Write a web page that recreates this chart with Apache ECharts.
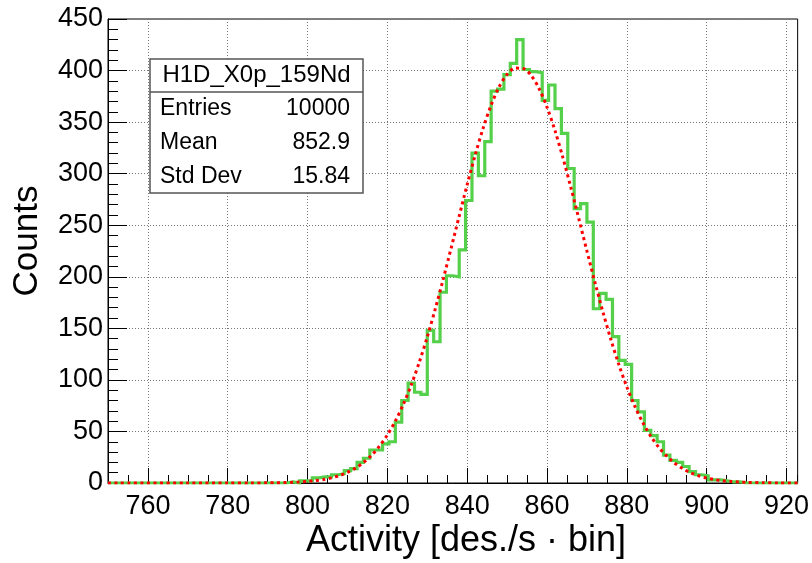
<!DOCTYPE html>
<html>
<head>
<meta charset="utf-8">
<script src="https://cdn.jsdelivr.net/npm/echarts@6/dist/echarts.min.js"></script>
<style>
  html, body { margin: 0; padding: 0; background: #ffffff; }
  #chart { width: 812px; height: 563px; }
</style>
</head>
<body>
<div id="chart"></div>
<script>
// Histogram binning: 108 bins of width 1.6 from 750 to 922.8
const binStart = 750;
const binWidth = 1.6;
const xMax = 922.8;

// Bin contents, bin 0 starts at 750
const counts = [
  0, 0, 0, 0, 0, 0, 0, 0, 0, 0,
  0, 0, 0, 0, 0, 0, 0, 0, 0, 0,
  0, 0, 0, 0, 0, 0, 0, 0, 1, 0,
  2, 2, 5, 6, 6, 8, 9, 12, 14, 20,
  24, 32, 32, 38, 40, 59, 80, 97, 88, 86,
  148, 137, 185, 201, 200, 226, 274, 320, 298, 331,
  380, 382, 396, 407, 430, 401, 399, 398, 371, 386,
  363, 339, 305, 266, 271, 253, 169, 184, 178, 142,
  119, 115, 80, 69, 51, 46, 40, 27, 22, 20,
  16, 11, 8, 7, 3, 3, 2, 1, 1, 0,
  0, 0, 0, 0, 0, 0, 0, 0
];

// Gaussian fit curve, sampled points
const fitX = [750, 770, 780, 786, 790, 792, 794, 796, 798, 800, 802, 804, 806, 808, 810, 812, 814, 816, 818, 820,
  822, 824, 826, 828, 830, 832, 834, 836, 838, 840, 842, 844, 846, 848, 850, 852, 854, 856, 858, 860,
  862, 864, 866, 868, 870, 872, 874, 876, 878, 880, 882, 884, 886, 888, 890, 892, 894, 896, 898, 900,
  902, 904, 906, 908, 910, 914, 918, 922.8];
const fitY = [0, 0, 0, 0.05, 0.15, 0.25, 0.4, 0.64, 1.0, 1.5, 2.3, 3.4, 5.0, 7.2, 10.3, 14.4, 19.8, 26.7, 35.6, 46.6,
  60.1, 76.3, 95.3, 117.2, 141.7, 168.8, 197.8, 228.1, 258.9, 289.3, 318.0, 344.2, 366.5, 384.2, 396.3, 402.4, 402.0, 395.4, 382.6, 364.5,
  341.7, 315.3, 286.2, 255.9, 225.0, 194.8, 166.0, 139.2, 114.8, 93.2, 74.5, 58.6, 45.4, 34.6, 26.0, 19.2, 13.9, 9.9, 7.0, 4.8,
  3.3, 2.2, 1.5, 0.95, 0.6, 0.24, 0.1, 0.05];

// Axis tick labels
const xTickValues = [760, 780, 800, 820, 840, 860, 880, 900, 920];
const yMax = 450;
const yStep = 50;

// Statistics box
const statsTitle = 'H1D_X0p_159Nd';
const statsLabels = ['Entries', 'Mean', 'Std Dev'];
const statsValues = ['10000', '852.9', '15.84'];

const xTitle = 'Activity [des./s \u00b7 bin]';
const yTitle = 'Counts';

const FONT = '"Liberation Sans", Arial, Helvetica, sans-serif';

// Step outline of the histogram, built from the bin contents
const histPoints = [[binStart, 0]];
counts.forEach((c, i) => {
  const x0 = binStart + i * binWidth;
  histPoints.push([x0, c], [x0 + binWidth, c]);
});
histPoints.push([binStart + counts.length * binWidth, 0]);

const fitPoints = fitX.map((x, i) => [x, fitY[i]]);

const chart = echarts.init(document.getElementById('chart'), null, { renderer: 'canvas' });

const statsRowsY = [108.5, 143, 176.5];
const statsGraphics = [
  {
    type: 'rect', z: 100,
    shape: { x: 150, y: 59, width: 213, height: 134 },
    style: { fill: '#ffffff', stroke: '#555555', lineWidth: 1.5 }
  },
  {
    type: 'line', z: 101,
    shape: { x1: 150, y1: 92, x2: 363, y2: 92 },
    style: { stroke: '#555555', lineWidth: 1.5 }
  },
  {
    type: 'text', z: 102, x: 256.5, y: 75.5,
    style: { text: statsTitle, font: '24px ' + FONT, fill: '#000', textAlign: 'center', textVerticalAlign: 'middle' }
  }
];
statsLabels.forEach((lab, i) => {
  statsGraphics.push({
    type: 'text', z: 102, x: 160, y: statsRowsY[i],
    style: { text: lab, font: '23px ' + FONT, fill: '#000', textAlign: 'left', textVerticalAlign: 'middle' }
  });
  statsGraphics.push({
    type: 'text', z: 102, x: 350, y: statsRowsY[i],
    style: { text: statsValues[i], font: '23px ' + FONT, fill: '#000', textAlign: 'right', textVerticalAlign: 'middle' }
  });
});

const option = {
  animation: false,
  backgroundColor: '#ffffff',
  grid: {
    left: 108, right: 13, top: 19, bottom: 80,
    show: true, borderColor: '#000000', borderWidth: 1, backgroundColor: 'transparent'
  },
  xAxis: [
    {
      type: 'value', min: binStart, max: xMax, position: 'bottom',
      axisLine: { show: true, onZero: false, lineStyle: { color: '#000', width: 1 } },
      axisTick: { show: true, inside: true, length: 15, customValues: xTickValues, lineStyle: { color: '#000', width: 1 } },
      axisLabel: { show: true, customValues: xTickValues, fontSize: 27, color: '#000', margin: 10, fontFamily: FONT },
      splitLine: { show: true, lineStyle: { color: '#777777', width: 1, type: [1, 2] } }
    },
    {
      type: 'value', min: binStart, max: xMax, interval: 5, position: 'bottom',
      axisLine: { show: false },
      axisTick: { show: true, inside: true, length: 8, lineStyle: { color: '#000', width: 1 } },
      axisLabel: { show: false },
      splitLine: { show: false }
    }
  ],
  yAxis: {
    type: 'value', min: 0, max: yMax, interval: yStep,
    axisLine: { show: true, onZero: false, lineStyle: { color: '#000', width: 1 } },
    axisTick: { show: true, inside: true, length: 19, lineStyle: { color: '#000', width: 1 } },
    minorTick: { show: true, splitNumber: 5, length: 10, lineStyle: { color: '#000', width: 1 } },
    axisLabel: { fontSize: 27, color: '#000', margin: 5, fontFamily: FONT },
    splitLine: { show: true, lineStyle: { color: '#777777', width: 1, type: [1, 2] } }
  },
  series: [
    {
      name: 'H1D_X0p_159Nd', type: 'line', xAxisIndex: 0, data: histPoints,
      showSymbol: false, symbol: 'none', clip: true, z: 3,
      lineStyle: { color: '#55d04b', width: 3.2, join: 'miter' }
    },
    {
      name: 'fit', type: 'line', xAxisIndex: 0, data: fitPoints,
      showSymbol: false, symbol: 'none', smooth: 0.3, clip: true, z: 4,
      lineStyle: { color: '#ff0000', width: 3, type: [3, 3.5] }
    }
  ],
  graphic: [
    {
      type: 'text', x: 27, y: 241, rotation: Math.PI / 2,
      style: { text: yTitle, font: '35px ' + FONT, fill: '#000', textAlign: 'center', textVerticalAlign: 'middle' }
    },
    {
      type: 'text', x: 466, y: 541,
      style: { text: xTitle, font: '36px ' + FONT, fill: '#000', textAlign: 'center', textVerticalAlign: 'middle' }
    }
  ].concat(statsGraphics)
};

chart.setOption(option);
</script>
</body>
</html>
